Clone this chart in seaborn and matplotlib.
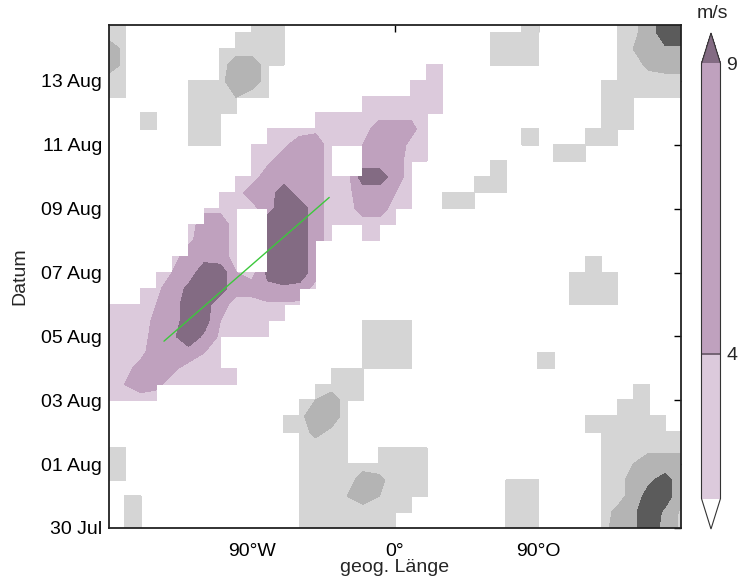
import numpy as np
import matplotlib
matplotlib.use("Agg")
import matplotlib.pyplot as plt
import seaborn as sns
from matplotlib.colors import ListedColormap, BoundaryNorm
from matplotlib.cm import ScalarMappable

sns.set_style("white")
plt.rcParams['font.family'] = ['Liberation Sans', 'DejaVu Sans']

# grid: longitude every 10 deg, time every 12 h (days since 30 Jul 00 UTC)
lon_grid = np.arange(-180, 181, 10)
day_grid = np.arange(0, 16.01, 0.5)

date_ticks = [0, 2, 4, 6, 8, 10, 12, 14]
date_labels = ['30 Jul', '01 Aug', '03 Aug', '05 Aug', '07 Aug', '09 Aug', '11 Aug', '13 Aug']
lon_ticks = [-90, 0, 90]
lon_labels = ['90°W', '0°', '90°O']

# amplitude in m/s (hex digit), '.' = below threshold; rows from 16 days (top) to 0 days (bottom)
field_rows = [
    "22.......222..............22....236cc",
    "22......2222............2222....236cc",
    "63.....22222............2222....24688",
    "63.....26622........22..2222....22566",
    "22...223662........222.........222222",
    "22...222422.....222222.........222222",
    "..22.2222....222222322.........222...",
    "..22.222..22232226652.....22..2222...",
    ".....222.223662246632.....2222222....",
    ".........236662.66622...22..222......",
    "........22666622cc62...222...........",
    ".......2266c66236642.22222...........",
    "......33227cc6226622.222.............",
    ".....2662.ccc622222..................",
    ".....3662.ccc62.22...................",
    "....26762.ccc6................22.....",
    "...246cc42acc6...............2222....",
    "..236acb668872...............2222....",
    "22246cb622333................2222....",
    "22256cb42222....2222.................",
    "22268c83222.....2222.................",
    "22367742........2222.......22........",
    "235652222.....222222.......22........",
    "246522222....2222................22..",
    "2222........24622...............222..",
    "...........23662..............222222.",
    "...........22532..............2222222",
    "22..........2222.2222..........223333",
    "22..........222222222..........224666",
    "22..........222265222....222...2268b6",
    ".22.........222464222....222...226bb6",
    ".22.........22222222.....222...258c83",
    ".22.........2222222......222...268c73",
]
# wave packet (purple) column range per row, same order as field_rows (-1 = none)
packet_first = [-1, -1, -1, 20, 19, 16, 13, 10, 9, 9, 8, 7, 6, 5, 5, 4, 3, 2, 0, 0, 0, 0, 0, 0, 0,
                -1, -1, -1, -1, -1, -1, -1, -1]
packet_last = [-1, -1, -1, 21, 21, 21, 21, 20, 20, 20, 19, 19, 19, 18, 17, 13, 13, 13, 12, 11, 10, 7, 8, 8, 3,
               -1, -1, -1, -1, -1, -1, -1, -1]

levels = [1.5, 4, 9]
cbar_ticks = [4, 9]

trend_lon = [-145.4, -41.4]
trend_day = [5.85, 10.35]

purple_colors = ['#dccadc', '#bfa1be', '#836b83']
gray_colors = ['#d5d5d5', '#b4b4b4', '#5b5b5b']

Z = np.array([[np.nan if c == '.' else int(c, 16) for c in r] for r in field_rows[::-1]], float)
first = np.array(packet_first[::-1])[:, None]
last = np.array(packet_last[::-1])[:, None]
cols = np.arange(Z.shape[1])[None, :]
in_packet = (cols >= first) & (cols <= last)
invalid = np.isnan(Z)
Zf = np.where(invalid, 0.0, Z)
Zp = np.ma.masked_where(~in_packet | invalid, Zf)
Zg = np.ma.masked_where(in_packet | invalid, Zf)

fig = plt.figure(figsize=(7.39, 5.76), dpi=100)
ax = fig.add_axes([109 / 739, 48 / 576, 572 / 739, 503 / 576])

fill_levels = levels + [100]
for data, cols_ in ((Zg, gray_colors), (Zp, purple_colors)):
    cs = ax.contourf(lon_grid, day_grid, data, levels=fill_levels, colors=cols_, corner_mask=False)
    cs.set_edgecolor('face')
    cs.set_linewidth(0.4)

sns.lineplot(x=trend_lon, y=trend_day, ax=ax, color='#3cc83c', lw=1.0, sort=False)

ax.set_xlim(-180, 180)
ax.set_ylim(0, 15.75)
ax.set_xticks(lon_ticks)
ax.set_xticklabels(lon_labels)
ax.set_yticks(date_ticks)
ax.set_yticklabels(date_labels)
ax.tick_params(axis='both', direction='in', length=5, width=1, top=True, right=True,
               labelsize=14, colors='black')
ax.tick_params(axis='x', pad=11)
ax.tick_params(axis='y', pad=5)
for s in ax.spines.values():
    s.set_linewidth(1.3)
    s.set_color('#222222')
ax.set_xlabel('geog. Länge', fontsize=14, labelpad=-1)
ax.set_ylabel('Datum', fontsize=14, labelpad=9)

cax = fig.add_axes([701.5 / 739, 47 / 576, 19 / 739, 496 / 576])
cmap = ListedColormap(purple_colors[:2])
cmap.set_over(purple_colors[2])
cmap.set_under('white')
norm = BoundaryNorm(levels, 2)
cb = fig.colorbar(ScalarMappable(norm=norm, cmap=cmap), cax=cax, extend='both',
                  spacing='proportional', extendfrac=0.07, ticks=cbar_ticks)
cb.outline.set_linewidth(0.8)
cb.outline.set_edgecolor('#333333')
cax.minorticks_off()
cax.tick_params(which='both', length=0, labelsize=14, pad=4)
cax.axhline(4, color='#6d5d6d', lw=1.3)
fig.text(712 / 739, 1 - 13 / 576, 'm/s', ha='center', va='center', fontsize=14)

fig.savefig('out.png', dpi=100)
